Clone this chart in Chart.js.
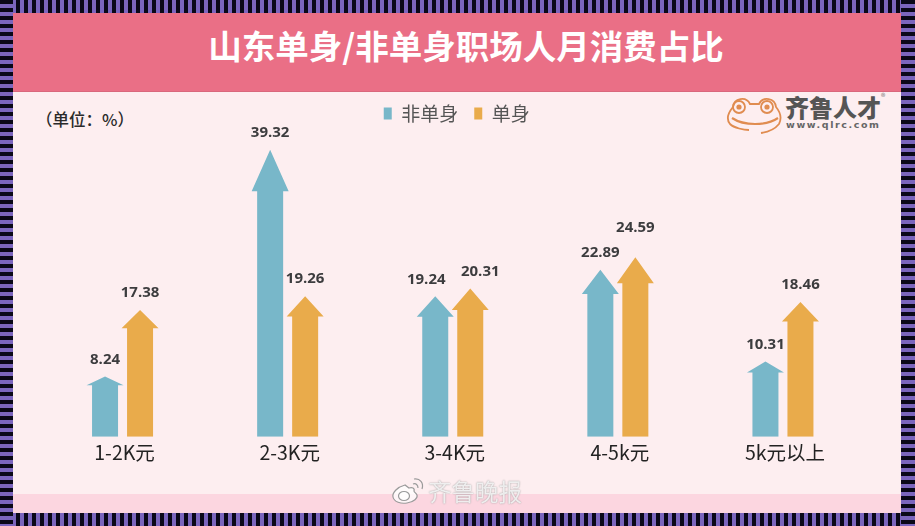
<!DOCTYPE html>
<html lang="zh">
<head>
<meta charset="utf-8">
<title>山东单身/非单身职场人月消费占比</title>
<script src="https://cdn.jsdelivr.net/npm/chart.js@4/dist/chart.umd.min.js"></script>
<style>
  html, body { margin: 0; padding: 0; }
  body { width: 915px; height: 526px; overflow: hidden; position: relative; background: #7b65bd; font-family: "Noto Sans CJK SC", sans-serif; }
  .stripe { position: absolute; }
  .stripe.h { left: 0; width: 915px; height: 13px; background: repeating-linear-gradient(90deg, #0a0818 0 4px, #7b65bd 4px 8px); }
  .stripe.v { top: 0; width: 13px; height: 526px; background: repeating-linear-gradient(180deg, #0a0818 0 4px, #7b65bd 4px 8px); }
  #paper { position: absolute; left: 13px; top: 13px; width: 888px; height: 500px; background: #fdeef0; }
  #banner { position: absolute; left: 13px; top: 13px; width: 888px; height: 79px; background: #ea6f86; border-bottom: 1px solid #d9677c; box-sizing: border-box; }
  #title { position: absolute; left: 0; top: 11px; width: 932px; text-align: center; color: #fff; font-size: 33.5px; font-weight: 700; line-height: 68px; white-space: nowrap; }
  #foot { position: absolute; left: 13px; top: 494px; width: 888px; height: 19px; background: #fcd6e0; }
  #unit { position: absolute; left: 36px; top: 107px; font-size: 16.5px; font-weight: 500; color: #2a2a2a; line-height: 24px; white-space: nowrap; }
  canvas { position: absolute; left: 0; top: 0; }
  #logo { position: absolute; left: 725px; top: 94px; width: 60px; height: 42px; }
  #brand { position: absolute; left: 785px; top: 93px; font-size: 24px; font-weight: 900; color: #555; line-height: 28px; white-space: nowrap; }
  #site { position: absolute; left: 786px; top: 118px; font-family: "DejaVu Sans", sans-serif; font-size: 9.5px; font-weight: 700; letter-spacing: 1.6px; color: #666; line-height: 14px; white-space: nowrap; }
  #reg { position: absolute; left: 881px; top: 91px; font-size: 9px; color: #777; line-height: 12px; }
  #wb { position: absolute; left: 390px; top: 476px; width: 36px; height: 30px; }
  #mark { position: absolute; left: 428px; top: 474px; font-size: 23.5px; color: rgba(255,255,255,.82); text-shadow: 0 0 1.5px #8a8a8a; line-height: 34px; white-space: nowrap; }
</style>
</head>
<body>
<div class="stripe h" style="top:0"></div>
<div class="stripe h" style="top:513px"></div>
<div class="stripe v" style="left:0"></div>
<div class="stripe v" style="left:901px;width:14px"></div>
<div id="paper"></div>
<div id="banner"></div>
<div id="foot"></div>
<div id="title">山东单身/非单身职场人月消费占比</div>
<div id="unit">（单位：%）</div>
<svg id="logo" viewBox="0 0 60 42" fill="none" stroke="#e08c50" stroke-width="1.8">
  <path d="M8 13a9 9 0 0 1 17-3h9a9 9 0 0 1 17 3c5 6 6 11 3 17M8 13C3 19 1 25 5 30c4 4 14 6 19 6M36 39c7-1 14-4 18-9"/>
  <path d="M7 24c12 8 34 8 46 0" stroke-width="2.2"/>
  <circle cx="14" cy="13" r="6"/><circle cx="42" cy="13" r="6"/>
  <circle cx="14" cy="13" r="2.6" fill="#e08c50" stroke="none"/><circle cx="42" cy="13" r="2.6" fill="#e08c50" stroke="none"/>
</svg>
<div id="brand">齐鲁人才</div>
<div id="site">www.qlrc.com</div>
<div id="reg">®</div>
<canvas id="chart" width="915" height="526"></canvas>
<svg id="wb" viewBox="0 0 36 30" fill="rgba(255,255,255,.75)" stroke="#9a9a9a" stroke-width="1.2">
  <path d="M15 9C7 11 2 17 3 21c1 5 8 7 14 6 7-1 11-5 10-8-1-2-3-3-3-4 1-3-2-4-5-3z"/>
  <ellipse cx="14" cy="20" rx="5.5" ry="4.5"/>
  <path d="M23 8c3-1 5 1 5 4M24 3c6-1 10 4 8 10" fill="none"/>
</svg>
<div id="mark">齐鲁晚报</div>

<script>
// dados
const categories = ['1-2K元', '2-3K元', '3-4K元', '4-5k元', '5k元以上'];
const nonSingle = [8.24, 39.32, 19.24, 22.89, 10.31];
const single = [17.38, 19.26, 20.31, 24.59, 18.46];

const seriesNames = ['非单身', '单身'];
const seriesColors = ['#78b7c9', '#e9ab4b'];

// rotulos que nao ficam centrados sobre a seta: [serie, indice, dx, dy]
const labelNudges = [[0, 2, -9, 0], [1, 2, 10, 0], [1, 3, 0, -12]];

// barra em forma de seta: a cabeca ocupa uma fracao da altura
class ArrowBar extends Chart.BarElement {
  draw(ctx) {
    const { x, y, base, width, options } = this.getProps(['x', 'y', 'base', 'width', 'options']);
    const shoulder = y + (base - y) * 0.145;
    const half = width / 2;
    const headHalf = 18.5;
    ctx.save();
    ctx.fillStyle = options.backgroundColor;
    ctx.beginPath();
    ctx.moveTo(x, y);
    ctx.lineTo(x + headHalf, shoulder);
    ctx.lineTo(x + half, shoulder);
    ctx.lineTo(x + half, base);
    ctx.lineTo(x - half, base);
    ctx.lineTo(x - half, shoulder);
    ctx.lineTo(x - headHalf, shoulder);
    ctx.closePath();
    ctx.fill();
    ctx.restore();
  }
}
ArrowBar.id = 'arrowBar';
ArrowBar.defaults = Chart.BarElement.defaults;

class ArrowController extends Chart.BarController {}
ArrowController.id = 'arrow';
ArrowController.defaults = { ...Chart.BarController.defaults, dataElementType: 'arrowBar' };
ArrowController.overrides = Chart.BarController.overrides;

Chart.register(ArrowBar, ArrowController);

// valores em cima das setas
const valueLabels = {
  id: 'valueLabels',
  afterDatasetsDraw(chart) {
    const ctx = chart.ctx;
    ctx.save();
    ctx.font = '700 15px "Open Sans", sans-serif';
    ctx.fillStyle = '#3c3c3e';
    ctx.textAlign = 'center';
    ctx.textBaseline = 'middle';
    chart.data.datasets.forEach((ds, d) => {
      chart.getDatasetMeta(d).data.forEach((bar, i) => {
        const nudge = labelNudges.find(n => n[0] === d && n[1] === i);
        const dx = nudge ? nudge[2] : 0;
        const dy = nudge ? nudge[3] : 0;
        ctx.fillText(ds.data[i].toFixed(2), bar.x + dx, bar.y - 17 + dy);
      });
    });
    ctx.restore();
  }
};

// o centro da legenda fica um pouco a direita do centro do grafico
const legendShift = {
  id: 'legendShift',
  afterLayout(chart) {
    chart.legend.left += 4;
    chart.legend.right += 4;
  }
};

new Chart(document.getElementById('chart'), {
  type: 'arrow',
  data: {
    labels: categories,
    datasets: [
      { label: seriesNames[0], data: nonSingle, backgroundColor: seriesColors[0] },
      { label: seriesNames[1], data: single, backgroundColor: seriesColors[1] }
    ]
  },
  options: {
    responsive: false,
    animation: false,
    events: [],
    layout: { padding: { top: 88, left: 40, right: 49.5, bottom: 56.8 } },
    datasets: { arrow: { categoryPercentage: 0.424, barPercentage: 0.743 } },
    scales: {
      x: {
        grid: { display: false, drawTicks: false },
        border: { display: false },
        ticks: { color: '#222', font: { family: '"Noto Sans CJK SC"', size: 19.5 }, padding: 4.5, labelOffset: 2, maxRotation: 0 }
      },
      y: { display: false, min: 0, max: 41.6 }
    },
    plugins: {
      tooltip: { enabled: false },
      legend: {
        position: 'top',
        labels: {
          boxWidth: 8,
          boxHeight: 12,
          padding: 16,
          color: '#555',
          font: { family: '"Noto Sans CJK SC"', size: 19 }
        }
      }
    }
  },
  plugins: [valueLabels, legendShift]
});
</script>
</body>
</html>
